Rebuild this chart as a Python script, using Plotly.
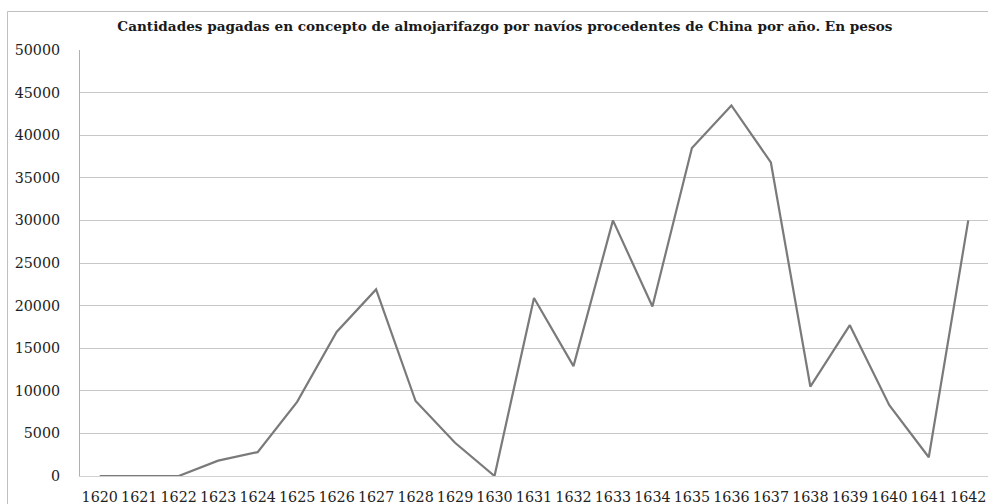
import plotly.graph_objects as go

years = list(range(1620, 1643))
pesos = [0, 0, 0, 1800, 2800, 8700, 16900, 21900, 8800, 3900, 0,
         20900, 12900, 30000, 19900, 38500, 43500, 36800, 10500, 17700, 8300, 2200, 30000]
y_ticks = [0, 5000, 10000, 15000, 20000, 25000, 30000, 35000, 40000, 45000, 50000]
title_text = "Cantidades pagadas en concepto de almojarifazgo por navíos procedentes de China por año. En pesos"

fig = go.Figure()
fig.add_trace(go.Scatter(x=years, y=pesos, mode="lines",
                         line=dict(color="#7a7a7a", width=2.2), showlegend=False))

fig.update_layout(
    width=988, height=504,
    margin=dict(l=80, r=0, t=50, b=28),
    paper_bgcolor="white", plot_bgcolor="white",
    font=dict(family="DejaVu Serif", size=14.3, color="#222222"),
    title=dict(text="<b>" + title_text + "</b>", x=0.511, xanchor="center",
               y=0.947, yanchor="middle",
               font=dict(family="DejaVu Serif", size=13.6, color="#1a1a1a")),
    xaxis=dict(range=[1619.5, 1642.5], tickvals=years, ticktext=[str(y) for y in years],
               showgrid=False, zeroline=False, showline=True, linecolor="#d0d0d0",
               linewidth=1, ticks="", ticklabelstandoff=8, fixedrange=True),
    yaxis=dict(range=[0, 50000], tickvals=y_ticks, ticktext=[str(v) for v in y_ticks],
               showgrid=True, gridcolor="#c8c8c8", gridwidth=1, zeroline=False,
               showline=True, linecolor="#b0b0b0", linewidth=1, ticks="",
               ticklabelstandoff=16),
    shapes=[dict(type="rect", xref="paper", yref="paper",
                 x0=(7.5 - 80) / 908, x1=1.02, y0=-0.2, y1=(476 - 11.5) / 426,
                 line=dict(color="#c0c0c0", width=1), fillcolor="rgba(0,0,0,0)", layer="below")],
)

fig.write_html("out.html")
